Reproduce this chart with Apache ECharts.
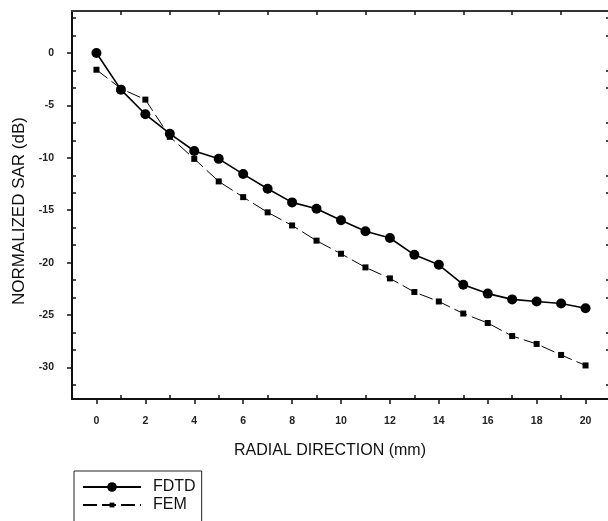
<!DOCTYPE html>
<html>
<head>
<meta charset="utf-8">
<script src="https://cdn.jsdelivr.net/npm/echarts@6/dist/echarts.min.js"></script>
<style>
html,body{margin:0;padding:0;background:#fff;}
#chart{width:608px;height:521px;}
</style>
</head>
<body>
<div id="chart"></div>
<script>
// ---- data ----
const radial = [0,1,2,3,4,5,6,7,8,9,10,11,12,13,14,15,16,17,18,19,20];
const fdtd = [0,-3.5,-5.85,-7.7,-9.35,-10.1,-11.55,-12.95,-14.25,-14.85,-15.95,-17.0,-17.65,-19.25,-20.2,-22.1,-22.95,-23.5,-23.7,-23.9,-24.35];
const fem = [-1.6,-3.4,-4.45,-8.0,-10.1,-12.25,-13.75,-15.2,-16.45,-17.9,-19.15,-20.45,-21.5,-22.8,-23.7,-24.85,-25.75,-27.0,-27.75,-28.8,-29.8];
const xMajorTicks = [0,2,4,6,8,10,12,14,16,18,20];
const xMinorTicks = [1,3,5,7,9,11,13,15,17,19];
const yMajorTicks = [-30,-25,-20,-15,-10,-5,0];
const yMinorTicks = [-31.67,-28.33,-26.67,-23.33,-21.67,-18.33,-16.67,-13.33,-11.67,-8.33,-6.67,-3.33,-1.67,1.67,3.33];
const seriesNames = ['FDTD','FEM'];

const chart = echarts.init(document.getElementById('chart'), null, {renderer:'canvas'});
const ink = '#111';
const lblStyle = {color:'#222', fontSize:10.5, fontWeight:'bold', fontFamily:'Liberation Sans, Arial, sans-serif'};
const XMIN=-1, XMAX=21, YMIN=-33, YMAX=4;

function xAx(extra){
  return Object.assign({
    type:'value', min:XMIN, max:XMAX, splitLine:{show:false},
    axisLine:{show:false, onZero:false, lineStyle:{color:ink, width:2}},
    axisTick:{show:false}, axisLabel:{show:false}
  }, extra);
}
function yAx(extra){
  return Object.assign({
    type:'value', min:YMIN, max:YMAX, splitLine:{show:false},
    axisLine:{show:false, onZero:false, lineStyle:{color:ink, width:2}},
    axisTick:{show:false}, axisLabel:{show:false}
  }, extra);
}

const option = {
  backgroundColor:'#fff',
  animation:false,
  grid:{left:72, top:11, width:538, height:388, containLabel:false, outerBoundsMode:'none'},
  xAxis:[
    xAx({position:'bottom',
      axisLine:{show:true, onZero:false, lineStyle:{color:ink, width:2}},
      axisTick:{show:true, inside:false, length:5, lineStyle:{color:ink, width:1.5}, customValues:xMajorTicks},
      axisLabel:Object.assign({show:true, margin:17, customValues:xMajorTicks}, lblStyle),
      name:'RADIAL DIRECTION (mm)', nameLocation:'middle', nameGap:44,
      nameTextStyle:{color:'#111', fontSize:16, fontFamily:'Liberation Sans, Arial, sans-serif', padding:[0,22,0,0]}
    }),
    xAx({position:'bottom',
      axisTick:{show:true, inside:true, length:4, lineStyle:{color:ink, width:1.5}, customValues:xMinorTicks}
    }),
    xAx({position:'top',
      axisLine:{show:true, onZero:false, lineStyle:{color:'#333', width:2}},
      axisTick:{show:true, inside:true, length:4, lineStyle:{color:ink, width:1.5}, customValues:xMinorTicks}
    })
  ],
  yAxis:[
    yAx({position:'left',
      axisLine:{show:true, onZero:false, lineStyle:{color:ink, width:2}},
      axisTick:{show:true, inside:false, length:5, lineStyle:{color:ink, width:1.5}, customValues:yMajorTicks},
      axisLabel:Object.assign({show:true, margin:18, customValues:yMajorTicks}, lblStyle),
      name:'NORMALIZED SAR (dB)', nameLocation:'middle', nameGap:44,
      nameTextStyle:{color:'#111', fontSize:17, fontFamily:'Liberation Sans, Arial, sans-serif', padding:[0,12,0,0]}
    }),
    yAx({position:'left',
      axisTick:{show:true, inside:true, length:4, lineStyle:{color:ink, width:1.5}, customValues:yMinorTicks}
    }),
    yAx({position:'right',
      axisLine:{show:true, onZero:false, lineStyle:{color:ink, width:2}},
      axisTick:{show:true, inside:true, length:4, lineStyle:{color:ink, width:1.5}, customValues:yMinorTicks}
    })
  ],
  legend:[
    {
      data:[seriesNames[0]], orient:'vertical', left:74, top:471,
      itemWidth:58, itemHeight:12, itemGap:4,
      padding:[8,6,60,8],
      borderColor:'#222', borderWidth:1, borderRadius:0,
      selectedMode:false,
      textStyle:{color:'#111', fontSize:16, fontFamily:'Liberation Sans, Arial, sans-serif', padding:[0,0,0,7]}
    },
    {
      data:[seriesNames[1]], orient:'vertical', left:82, top:497,
      itemWidth:58, itemHeight:6,
      padding:0, selectedMode:false,
      textStyle:{color:'#111', fontSize:16, fontFamily:'Liberation Sans, Arial, sans-serif', padding:[0,0,0,7]}
    }
  ],
  series:[
    {
      name:seriesNames[0], type:'line', xAxisIndex:0, yAxisIndex:0,
      data:radial.map((x,i)=>[x,fdtd[i]]),
      symbol:'circle', symbolSize:10,
      lineStyle:{color:'#000', width:1.6},
      itemStyle:{color:'#000'},
      z:3
    },
    {
      name:seriesNames[1], type:'line', xAxisIndex:0, yAxisIndex:0,
      data:radial.map((x,i)=>[x,fem[i]]),
      symbol:'rect', symbolSize:6,
      lineStyle:{color:'#000', width:1, type:[14,5]},
      itemStyle:{color:'#000'},
      z:2
    }
  ]
};
chart.setOption(option);
</script>
</body>
</html>
